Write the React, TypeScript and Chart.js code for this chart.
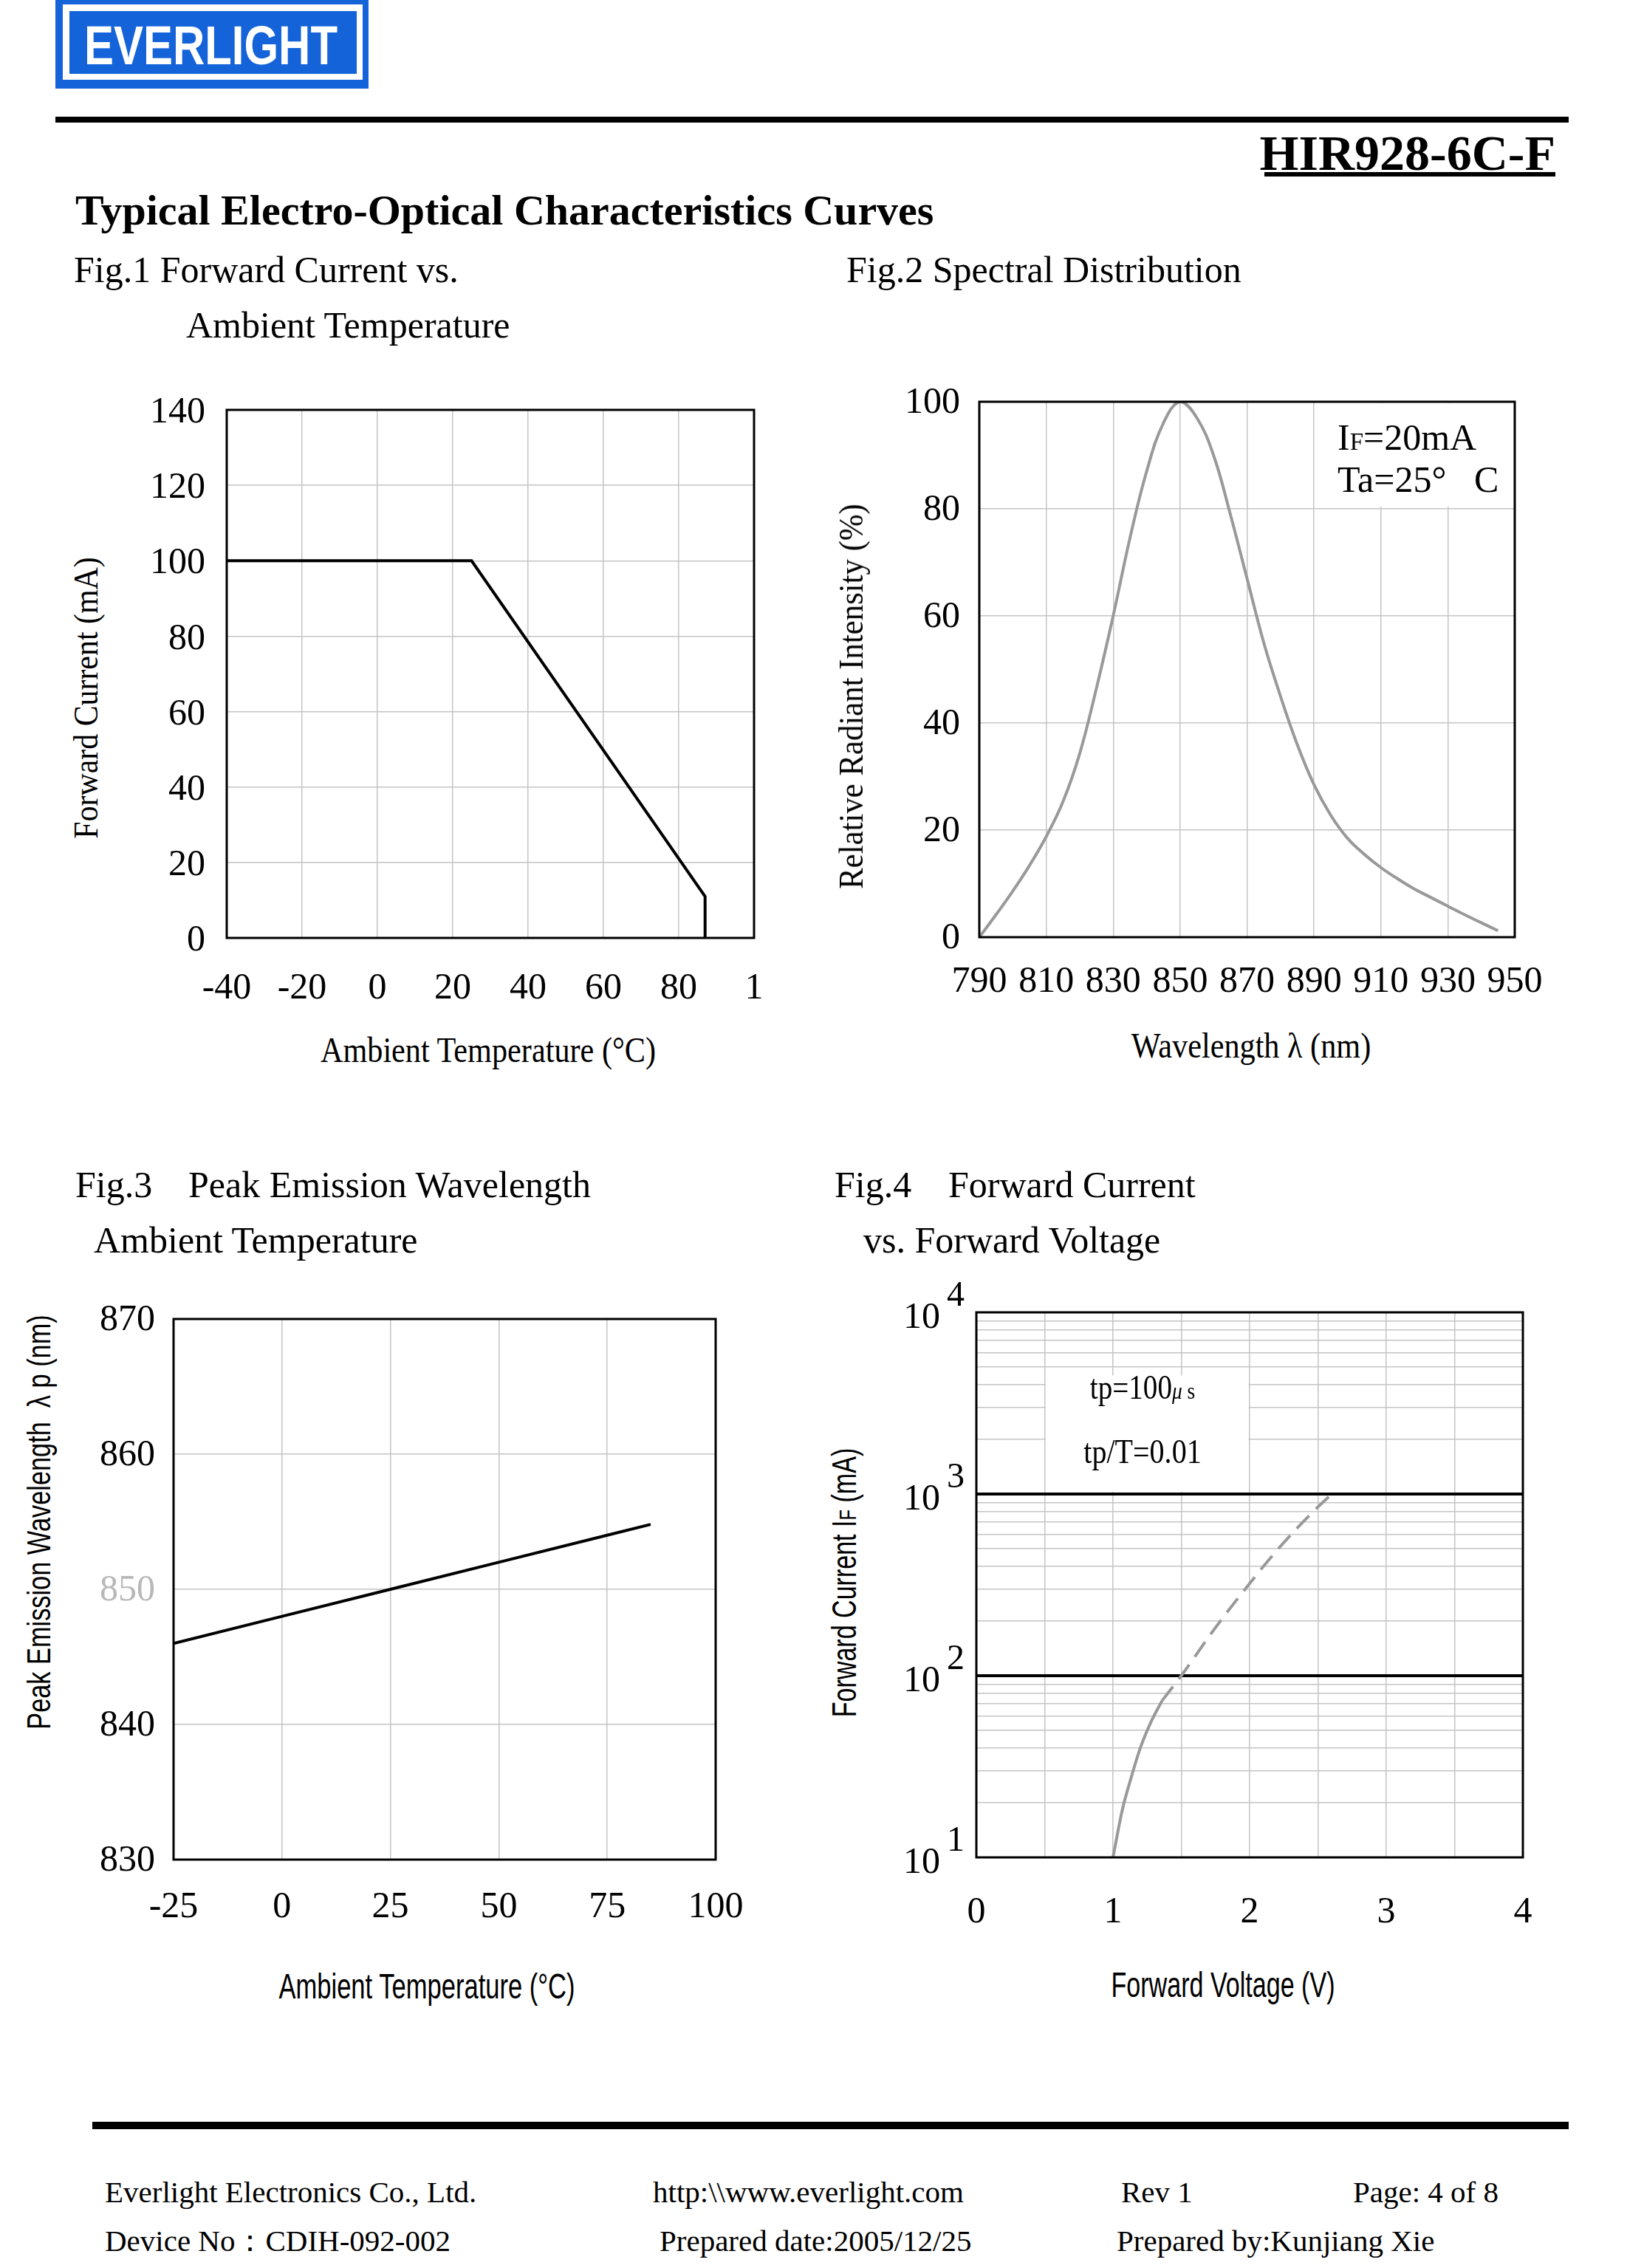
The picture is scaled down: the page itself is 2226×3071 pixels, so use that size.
import React, { useEffect, useRef } from 'react';
import { Chart, registerables } from 'chart.js';

Chart.register(...registerables);

const SERIF = '"Liberation Serif", "Times New Roman", serif';
const SANS = '"Liberation Sans", Arial, sans-serif';
const GRID = '#c4c4c4';
const BLUE = '#1563d9';

// ---------- Fig.1 Forward Current vs. Ambient Temperature ----------
const FIG1_TEMP = [-40, 25, 87, 87];
const FIG1_CURRENT = [100, 100, 11, 0];
const FIG1_X_TICKS = [-40, -20, 0, 20, 40, 60, 80, 100];
const FIG1_X_LABELS = ['-40', '-20', '0', '20', '40', '60', '80', '1'];
const FIG1_Y_TICKS = [0, 20, 40, 60, 80, 100, 120, 140];

// ---------- Fig.2 Spectral Distribution ----------
const FIG2_WAVELENGTH = [790, 795, 800, 805, 810, 815, 820, 825, 830, 835, 840, 845, 850, 855, 860, 865, 870, 875, 880, 885, 890, 895, 900, 905, 910, 915, 920, 925, 930, 935, 940, 945];
const FIG2_INTENSITY = [0, 4.2, 8.6, 13.4, 18.8, 25.3, 34.3, 46.5, 60, 74.5, 87, 96, 100, 97, 90, 79, 67, 55, 45, 36, 28.5, 22.8, 18.5, 15.5, 13, 10.9, 9, 7.4, 5.8, 4.2, 2.7, 1.2];
const FIG2_X_TICKS = [790, 810, 830, 850, 870, 890, 910, 930, 950];
const FIG2_Y_TICKS = [0, 20, 40, 60, 80, 100];

// ---------- Fig.3 Peak Emission Wavelength vs. Ambient Temperature ----------
const FIG3_TEMP = [-25, 0, 25, 50, 75, 85];
const FIG3_WAVELENGTH = [846, 848, 850, 852, 854, 854.8];
const FIG3_X_TICKS = [-25, 0, 25, 50, 75, 100];
const FIG3_Y_TICKS = [830, 840, 850, 860, 870];

// ---------- Fig.4 Forward Current vs. Forward Voltage ----------
const FIG4_V_SOLID = [1.0, 1.07, 1.13, 1.2, 1.28, 1.36];
const FIG4_I_SOLID = [10, 18.5, 27, 40, 56, 73];
const FIG4_V_DASH = [1.36, 1.5, 1.75, 1.98, 2.21, 2.45, 2.6];
const FIG4_I_DASH = [73, 100, 184, 308, 500, 780, 1000];
const FIG4_X_TICKS = [0, 0.5, 1, 1.5, 2, 2.5, 3, 3.5, 4];
const FIG4_Y_GRID = [10, 20, 30, 40, 50, 60, 70, 80, 90, 100, 200, 300, 400, 500, 600, 700, 800, 900, 1000, 2000, 3000, 4000, 5000, 6000, 7000, 8000, 9000, 10000];
const FIG4_Y_DECADES = [10, 100, 1000, 10000];
const FIG4_Y_EXPONENTS = ['1', '2', '3', '4'];
const FIG4_THICK_LINES = [100, 1000];

type Rect = { x: number; y: number; w: number; h: number };
type Area = { L: number; T: number; R: number; B: number };

const tickFont = { family: SERIF, size: 50, lineHeight: 1 };

function fixedLayout(cv: Rect, a: Area) {
  return { padding: { left: 0, top: a.T - cv.y, right: cv.x + cv.w - a.R, bottom: 0 } };
}

function xAxis(cv: Rect, a: Area, min: number, max: number, ticks: number[], pad: number, label: (v: number) => string) {
  return {
    type: 'linear',
    position: 'bottom',
    min,
    max,
    afterBuildTicks: (s: any) => {
      s.ticks = ticks.map((v) => ({ value: v }));
    },
    afterFit: (s: any) => {
      s.height = cv.y + cv.h - a.B;
    },
    grid: { color: GRID, lineWidth: 1.5, drawTicks: false },
    border: { display: false },
    ticks: {
      autoSkip: false,
      maxRotation: 0,
      minRotation: 0,
      padding: pad,
      color: '#000',
      font: tickFont,
      callback: (v: any) => label(Number(v)),
    },
  };
}

function yAxis(cv: Rect, a: Area, min: number, max: number, ticks: number[], pad: number, color: any = '#000', labelOffset = 0) {
  return {
    type: 'linear',
    position: 'left',
    min,
    max,
    afterBuildTicks: (s: any) => {
      s.ticks = ticks.map((v) => ({ value: v }));
    },
    afterFit: (s: any) => {
      s.width = a.L - cv.x;
    },
    grid: { color: GRID, lineWidth: 1.5, drawTicks: false },
    border: { display: false },
    ticks: {
      autoSkip: false,
      padding: pad,
      labelOffset,
      color,
      font: tickFont,
      callback: (v: any) => String(v),
    },
  };
}

const framePlugin = {
  id: 'frame',
  afterDatasetsDraw(chart: any) {
    const { ctx, chartArea: c } = chart;
    ctx.save();
    ctx.strokeStyle = '#000';
    ctx.lineWidth = 3;
    ctx.strokeRect(c.left, c.top, c.right - c.left, c.bottom - c.top);
    ctx.restore();
  },
};

function whiteBox(x0: number, x1: number | null, y0: number | null, y1: number, inset: number) {
  return {
    id: 'whiteBox',
    beforeDatasetsDraw(chart: any) {
      const { ctx, chartArea: c, scales } = chart;
      const px0 = scales.x.getPixelForValue(x0) + inset;
      const px1 = x1 === null ? c.right - 2 : scales.x.getPixelForValue(x1) - inset;
      const py0 = y0 === null ? c.top + 2 : scales.y.getPixelForValue(y0);
      const py1 = scales.y.getPixelForValue(y1) - 3;
      ctx.save();
      ctx.fillStyle = '#fff';
      ctx.fillRect(px0, py0, px1 - px0, py1 - py0);
      ctx.restore();
    },
  };
}

const baseOpts = {
  responsive: false,
  animation: false,
  devicePixelRatio: 1,
  events: [],
  plugins: { legend: { display: false }, tooltip: { enabled: false } },
};

// plot areas (page coordinates) and the canvases around them
const A1: Area = { L: 307, T: 555, R: 1021, B: 1270 };
const A2: Area = { L: 1326, T: 544, R: 2051, B: 1269 };
const A3: Area = { L: 235, T: 1786, R: 969, B: 2518 };
const A4: Area = { L: 1322, T: 1777, R: 2062, B: 2515 };
const CV1: Rect = { x: 150, y: A1.T - 90, w: A1.R + 110 - 150, h: 1390 - (A1.T - 90) };
const CV2: Rect = { x: 1200, y: A2.T - 90, w: A2.R + 110 - 1200, h: 1380 - (A2.T - 90) };
const CV3: Rect = { x: 120, y: A3.T - 90, w: A3.R + 110 - 120, h: 2640 - (A3.T - 90) };
const CV4: Rect = { x: 1200, y: A4.T - 90, w: A4.R + 110 - 1200, h: 2640 - (A4.T - 90) };

function makeFig1() {
  return {
    type: 'scatter',
    data: {
      datasets: [
        {
          data: FIG1_TEMP.map((x, i) => ({ x, y: FIG1_CURRENT[i] })),
          showLine: true,
          borderColor: '#000',
          borderWidth: 4,
          pointRadius: 0,
          tension: 0,
        },
      ],
    },
    options: {
      ...baseOpts,
      layout: fixedLayout(CV1, A1),
      scales: {
        x: xAxis(CV1, A1, -40, 100, FIG1_X_TICKS, 44, (v) => FIG1_X_LABELS[FIG1_X_TICKS.indexOf(v)] ?? ''),
        y: yAxis(CV1, A1, 0, 140, FIG1_Y_TICKS, 29, '#000', 4),
      },
    },
    plugins: [framePlugin],
  };
}

function makeFig2() {
  return {
    type: 'scatter',
    data: {
      datasets: [
        {
          data: FIG2_WAVELENGTH.map((x, i) => ({ x, y: FIG2_INTENSITY[i] })),
          showLine: true,
          borderColor: '#999999',
          borderWidth: 4,
          pointRadius: 0,
          tension: 0.4,
        },
      ],
    },
    options: {
      ...baseOpts,
      layout: fixedLayout(CV2, A2),
      scales: {
        x: xAxis(CV2, A2, 790, 950, FIG2_X_TICKS, 36, (v) => String(v)),
        y: yAxis(CV2, A2, 0, 100, FIG2_Y_TICKS, 26, '#000', 2),
      },
    },
    plugins: [whiteBox(893, null, null, 80, 0), framePlugin],
  };
}

function makeFig3() {
  return {
    type: 'scatter',
    data: {
      datasets: [
        {
          data: FIG3_TEMP.map((x, i) => ({ x, y: FIG3_WAVELENGTH[i] })),
          showLine: true,
          borderColor: '#000',
          borderWidth: 4,
          pointRadius: 0,
          tension: 0,
        },
      ],
    },
    options: {
      ...baseOpts,
      layout: fixedLayout(CV3, A3),
      scales: {
        x: xAxis(CV3, A3, -25, 100, FIG3_X_TICKS, 40, (v) => String(v)),
        y: yAxis(CV3, A3, 830, 870, FIG3_Y_TICKS, 25, (c: any) => (c.tick && c.tick.value === 850 ? '#b8b8b8' : '#000'), 2),
      },
    },
    plugins: [framePlugin],
  };
}

const fig4LabelPlugin = {
  id: 'fig4Labels',
  afterDraw(chart: any) {
    const { ctx, chartArea: c, scales } = chart;
    ctx.save();
    ctx.fillStyle = '#000';
    ctx.textBaseline = 'middle';
    FIG4_Y_DECADES.forEach((v, i) => {
      const py = scales.y.getPixelForValue(v);
      ctx.font = `50px ${SERIF}`;
      ctx.textAlign = 'right';
      ctx.fillText('10', c.left - 49, py + 8);
      ctx.font = `48px ${SERIF}`;
      ctx.textAlign = 'left';
      ctx.fillText(FIG4_Y_EXPONENTS[i], c.left - 40, py - 22);
    });
    ctx.restore();
  },
};

function makeFig4() {
  return {
    type: 'scatter',
    data: {
      datasets: [
        {
          data: FIG4_V_SOLID.map((x, i) => ({ x, y: FIG4_I_SOLID[i] })),
          showLine: true,
          borderColor: '#999999',
          borderWidth: 4,
          pointRadius: 0,
          cubicInterpolationMode: 'monotone',
        },
        {
          data: FIG4_V_DASH.map((x, i) => ({ x, y: FIG4_I_DASH[i] })),
          showLine: true,
          borderColor: '#999999',
          borderWidth: 4,
          borderDash: [24, 13],
          pointRadius: 0,
          cubicInterpolationMode: 'monotone',
        },
      ],
    },
    options: {
      ...baseOpts,
      layout: fixedLayout(CV4, A4),
      scales: {
        x: xAxis(CV4, A4, 0, 4, FIG4_X_TICKS, 50, (v) => (Number.isInteger(v) ? String(v) : '')),
        y: {
          type: 'logarithmic',
          position: 'left',
          min: 10,
          max: 10000,
          afterBuildTicks: (s: any) => {
            s.ticks = FIG4_Y_GRID.map((v) => ({ value: v }));
          },
          afterFit: (s: any) => {
            s.width = A4.L - CV4.x;
          },
          border: { display: false },
          grid: {
            drawTicks: false,
            color: (c: any) => (c.tick && FIG4_THICK_LINES.includes(c.tick.value) ? '#000' : GRID),
            lineWidth: (c: any) => (c.tick && FIG4_THICK_LINES.includes(c.tick.value) ? 4 : 1.5),
          },
          ticks: { display: false, autoSkip: false },
        },
      },
    },
    plugins: [whiteBox(0.5, 2, 4500, 1000, 1.5), framePlugin, fig4LabelPlugin],
  };
}

function ChartCanvas({ rect, make }: { rect: Rect; make: () => any }) {
  const ref = useRef<HTMLCanvasElement>(null);
  useEffect(() => {
    const chart = new Chart(ref.current as HTMLCanvasElement, make());
    return () => chart.destroy();
  }, []);
  return (
    <canvas
      ref={ref}
      width={rect.w}
      height={rect.h}
      style={{ position: 'absolute', left: rect.x, top: rect.y, width: rect.w, height: rect.h }}
    />
  );
}

type TxtProps = {
  x: number;
  y: number;
  size: number;
  children: React.ReactNode;
  family?: string;
  bold?: boolean;
  sx?: number;
  anchor?: 'left' | 'center' | 'right';
  color?: string;
};

function Txt({ x, y, size, children, family = SERIF, bold = false, sx = 1, anchor = 'left', color = '#000' }: TxtProps) {
  const tx = anchor === 'left' ? '0' : anchor === 'center' ? '-50%' : '-100%';
  return (
    <div
      style={{
        position: 'absolute',
        left: x,
        top: y - 0.84 * size,
        fontFamily: family,
        fontSize: size,
        lineHeight: `${size}px`,
        fontWeight: bold ? 'bold' : 'normal',
        color,
        whiteSpace: 'pre',
        transform: `translateX(${tx}) scaleX(${sx})`,
        transformOrigin: anchor,
      }}
    >
      {children}
    </div>
  );
}

function RotTxt({ cx, cy, size, children, family = SERIF, sx = 1 }: { cx: number; cy: number; size: number; children: React.ReactNode; family?: string; sx?: number }) {
  return (
    <div
      style={{
        position: 'absolute',
        left: cx,
        top: cy,
        fontFamily: family,
        fontSize: size,
        lineHeight: `${size}px`,
        whiteSpace: 'pre',
        color: '#000',
        transform: `translate(-50%, -50%) rotate(-90deg) scaleX(${sx})`,
        transformOrigin: 'center',
      }}
    >
      {children}
    </div>
  );
}

export default function App() {
  return (
    <div style={{ position: 'absolute', left: 0, top: 0, width: 2226, height: 3071, background: '#fff', overflow: 'hidden' }}>
      {/* logo */}
      <div style={{ position: 'absolute', left: 75, top: 0, width: 424, height: 120, background: BLUE }} />
      <div style={{ position: 'absolute', left: 85, top: 6, width: 406, height: 102, background: '#fff' }} />
      <div style={{ position: 'absolute', left: 94, top: 15, width: 389, height: 85, background: BLUE }} />
      <Txt x={114} y={87} size={74} family={SANS} bold sx={0.81} color="#fff">EVERLIGHT</Txt>

      {/* header */}
      <div style={{ position: 'absolute', left: 75, top: 158, width: 2049, height: 8, background: '#000' }} />
      <Txt x={2106} y={230} size={68} bold anchor="right">HIR928-6C-F</Txt>
      <div style={{ position: 'absolute', left: 1712, top: 233, width: 394, height: 6, background: '#000' }} />
      <Txt x={102} y={305} size={58} bold>Typical Electro-Optical Characteristics Curves</Txt>

      {/* fig titles */}
      <Txt x={100} y={382} size={50}>Fig.1 Forward Current vs.</Txt>
      <Txt x={252} y={457} size={50}>Ambient Temperature</Txt>
      <Txt x={1146} y={382} size={50}>Fig.2 Spectral Distribution</Txt>
      <Txt x={102} y={1621} size={50}>Fig.3</Txt>
      <Txt x={255} y={1621} size={50}>Peak Emission Wavelength</Txt>
      <Txt x={127} y={1696} size={50}>Ambient Temperature</Txt>
      <Txt x={1130} y={1621} size={50}>Fig.4</Txt>
      <Txt x={1284} y={1621} size={50}>Forward Current</Txt>
      <Txt x={1169} y={1696} size={50}>vs. Forward Voltage</Txt>

      {/* charts */}
      <ChartCanvas rect={CV1} make={makeFig1} />
      <ChartCanvas rect={CV2} make={makeFig2} />
      <ChartCanvas rect={CV3} make={makeFig3} />
      <ChartCanvas rect={CV4} make={makeFig4} />

      {/* fig1 axis titles */}
      <RotTxt cx={117} cy={945} size={46} sx={0.91}>Forward Current (mA)</RotTxt>
      <Txt x={661} y={1438} size={48} sx={0.88} anchor="center">Ambient Temperature (°C)</Txt>

      {/* fig2 axis titles + note */}
      <RotTxt cx={1153} cy={943} size={46} sx={0.93}>Relative Radiant Intensity (%)</RotTxt>
      <Txt x={1694} y={1432} size={48} sx={0.88} anchor="center">Wavelength λ (nm)</Txt>
      <Txt x={1811} y={609} size={50}>I<span style={{ fontSize: '0.66em' }}>F</span>=20mA</Txt>
      <Txt x={1811} y={666} size={50}>{'Ta=25°   C'}</Txt>

      {/* fig3 axis titles */}
      <RotTxt cx={53} cy={2061} size={44} family={SANS} sx={0.78}>{'Peak Emission Wavelength  λ p (nm)'}</RotTxt>
      <Txt x={578} y={2706} size={48} family={SANS} sx={0.72} anchor="center">Ambient Temperature (°C)</Txt>

      {/* fig4 axis titles + note */}
      <RotTxt cx={1145} cy={2143} size={46} family={SANS} sx={0.74}>
        Forward Current I<span style={{ fontSize: '0.7em' }}>F</span> (mA)
      </RotTxt>
      <Txt x={1656} y={2704} size={48} family={SANS} sx={0.71} anchor="center">Forward Voltage (V)</Txt>
      <Txt x={1547} y={1895} size={46} sx={0.85} anchor="center">
        tp=100<span style={{ fontSize: '0.7em', fontStyle: 'italic' }}>μ</span>
        <span style={{ fontSize: '0.7em' }}> s</span>
      </Txt>
      <Txt x={1547} y={1982} size={46} sx={0.87} anchor="center">tp/T=0.01</Txt>

      {/* footer */}
      <div style={{ position: 'absolute', left: 125, top: 2873, width: 1999, height: 10, background: '#000' }} />
      <Txt x={142} y={2982} size={41}>Everlight Electronics Co., Ltd.</Txt>
      <Txt x={884} y={2982} size={41}>{'http:\\\\www.everlight.com'}</Txt>
      <Txt x={1518} y={2982} size={41}>Rev 1</Txt>
      <Txt x={1832} y={2982} size={41}>Page: 4 of 8</Txt>
      <Txt x={142} y={3048} size={41}>Device No：CDIH-092-002</Txt>
      <Txt x={893} y={3048} size={41}>Prepared date:2005/12/25</Txt>
      <Txt x={1512} y={3048} size={41}>Prepared by:Kunjiang Xie</Txt>
    </div>
  );
}
